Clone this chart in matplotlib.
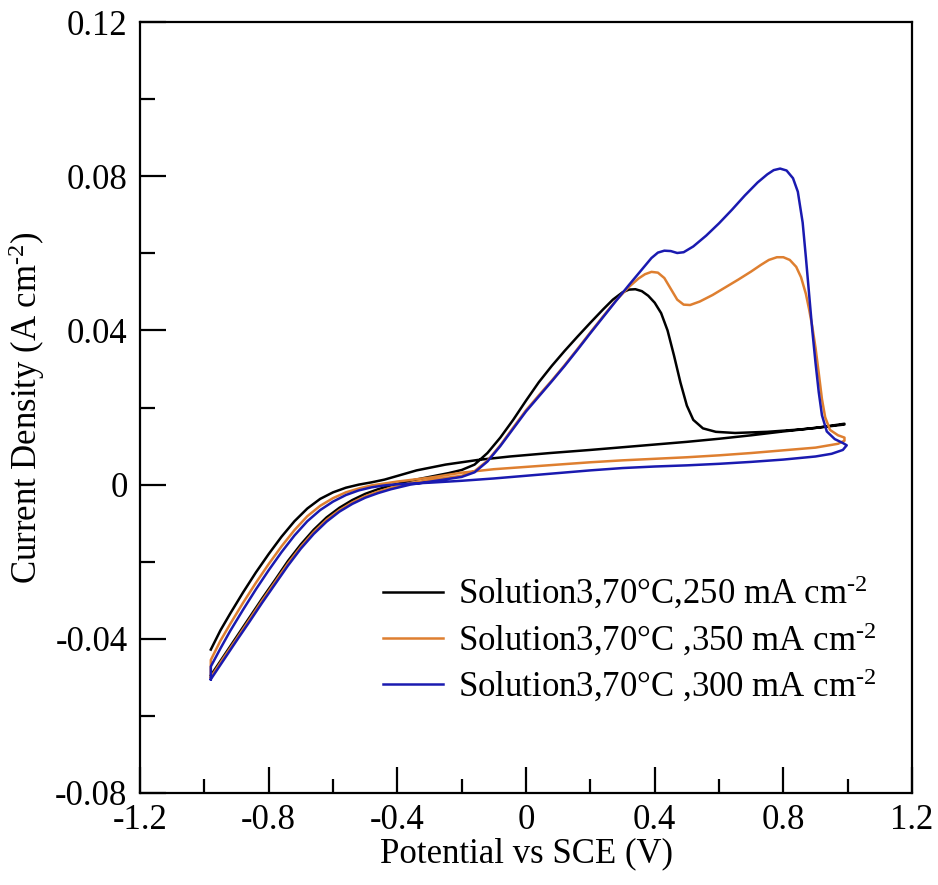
import matplotlib
matplotlib.use('Agg')
import matplotlib.pyplot as plt
import numpy as np
from matplotlib.ticker import MultipleLocator

plt.rcParams['font.family'] = ['Liberation Serif', 'DejaVu Serif']
plt.rcParams['mathtext.fontset'] = 'custom'
plt.rcParams['mathtext.rm'] = 'Liberation Serif'
plt.rcParams['mathtext.it'] = 'Liberation Serif'

# Data. Each curve: forward scan (fwd) then return scan (rev)
# Solution3, 70 C, 250 mA cm-2 (black)
x_250_fwd = [-0.98, -0.94, -0.90, -0.86, -0.82, -0.78, -0.74, -0.70, -0.66, -0.62,
             -0.58, -0.54, -0.50, -0.46, -0.42, -0.36, -0.30, -0.24, -0.20, -0.16,
             -0.12, -0.08, -0.04, 0.00, 0.04, 0.08, 0.12, 0.16, 0.20, 0.24,
             0.27, 0.30, 0.32, 0.34, 0.36, 0.38, 0.40, 0.42, 0.44, 0.46,
             0.48, 0.50, 0.52, 0.55, 0.59, 0.65, 0.75, 0.85, 0.93, 0.99]
y_250_fwd = [-0.0495, -0.0445, -0.0395, -0.0345, -0.0295, -0.0247, -0.0198, -0.0155, -0.0117, -0.0085,
             -0.0060, -0.0040, -0.0024, -0.0012, -0.0002, 0.0010, 0.0020, 0.0030, 0.0038, 0.0052,
             0.0082, 0.0122, 0.0168, 0.0218, 0.0266, 0.0308, 0.0347, 0.0384, 0.0420, 0.0455,
             0.0480, 0.0499, 0.0506, 0.0507, 0.0502, 0.0490, 0.0472, 0.0445, 0.0400, 0.0335,
             0.0265, 0.0205, 0.0168, 0.0146, 0.0137, 0.0134, 0.0137, 0.0143, 0.0150, 0.0156]
x_250_rev = [0.99, 0.90, 0.80, 0.70, 0.60, 0.50, 0.40, 0.30, 0.20, 0.075,
             -0.05, -0.15, -0.25, -0.34, -0.39, -0.44, -0.48, -0.52, -0.56, -0.60,
             -0.64, -0.68, -0.72, -0.76, -0.80, -0.84, -0.88, -0.92, -0.95, -0.98]
y_250_rev = [0.0158, 0.0147, 0.0138, 0.0128, 0.0119, 0.0111, 0.0104, 0.0097, 0.0090, 0.0082,
             0.0073, 0.0064, 0.0052, 0.0037, 0.0025, 0.0013, 0.0006, 0.0000, -0.0008, -0.0020,
             -0.0037, -0.0062, -0.0095, -0.0135, -0.0180, -0.0228, -0.0280, -0.0335, -0.0378, -0.0428]

# Solution3, 70 C, 350 mA cm-2 (orange)
x_350_fwd = [-0.98, -0.94, -0.90, -0.86, -0.82, -0.78, -0.74, -0.70, -0.66, -0.62,
             -0.58, -0.54, -0.50, -0.46, -0.42, -0.36, -0.28, -0.20, -0.16, -0.12,
             -0.08, -0.04, 0.00, 0.04, 0.08, 0.12, 0.16, 0.20, 0.24, 0.28,
             0.32, 0.35, 0.37, 0.39, 0.41, 0.43, 0.45, 0.47, 0.49, 0.51,
             0.54, 0.58, 0.62, 0.66, 0.70, 0.73, 0.755, 0.78, 0.80, 0.82,
             0.84, 0.855, 0.87, 0.88, 0.89, 0.90, 0.91, 0.92, 0.93, 0.945,
             0.97, 0.99]
y_350_fwd = [-0.0500, -0.0449, -0.0400, -0.0350, -0.0300, -0.0252, -0.0204, -0.0161, -0.0123, -0.0091,
             -0.0066, -0.0046, -0.0030, -0.0018, -0.0008, 0.0004, 0.0014, 0.0023, 0.0035, 0.0062,
             0.0102, 0.0148, 0.0193, 0.0232, 0.0270, 0.0310, 0.0352, 0.0395, 0.0437, 0.0478,
             0.0513, 0.0535, 0.0546, 0.0552, 0.0550, 0.0536, 0.0508, 0.0480, 0.0467, 0.0466,
             0.0475, 0.0492, 0.0512, 0.0532, 0.0553, 0.0570, 0.0583, 0.0590, 0.0590, 0.0583,
             0.0565, 0.0538, 0.0495, 0.0455, 0.0410, 0.0355, 0.0290, 0.0222, 0.0175, 0.0142,
             0.0128, 0.0122]
x_350_rev = [0.99, 0.97, 0.90, 0.80, 0.70, 0.60, 0.50, 0.40, 0.30, 0.20,
             0.10, 0.00, -0.10, -0.20, -0.30, -0.40, -0.44, -0.48, -0.52, -0.56,
             -0.60, -0.64, -0.68, -0.72, -0.76, -0.80, -0.84, -0.88, -0.92, -0.95,
             -0.98, -0.98]
y_350_rev = [0.0114, 0.0106, 0.0096, 0.0089, 0.0082, 0.0076, 0.0071, 0.0067, 0.0063, 0.0058,
             0.0052, 0.0046, 0.0040, 0.0031, 0.0018, 0.0008, 0.0003, -0.0002, -0.0010, -0.0020,
             -0.0035, -0.0055, -0.0082, -0.0118, -0.0160, -0.0206, -0.0255, -0.0307, -0.0362, -0.0405,
             -0.0455, -0.0500]

# Solution3, 70 C, 300 mA cm-2 (blue)
x_300_fwd = [-0.98, -0.94, -0.90, -0.86, -0.82, -0.78, -0.74, -0.70, -0.66, -0.62,
             -0.58, -0.54, -0.50, -0.46, -0.42, -0.36, -0.28, -0.20, -0.16, -0.12,
             -0.08, -0.04, 0.00, 0.04, 0.08, 0.12, 0.16, 0.20, 0.24, 0.28,
             0.32, 0.36, 0.39, 0.41, 0.43, 0.45, 0.47, 0.49, 0.52, 0.56,
             0.60, 0.64, 0.68, 0.72, 0.75, 0.77, 0.79, 0.81, 0.83, 0.845,
             0.86, 0.87, 0.88, 0.89, 0.90, 0.91, 0.92, 0.935, 0.96, 0.985,
             0.997]
y_300_fwd = [-0.0505, -0.0455, -0.0405, -0.0356, -0.0306, -0.0258, -0.0210, -0.0166, -0.0128, -0.0096,
             -0.0070, -0.0050, -0.0034, -0.0022, -0.0012, 0.0000, 0.0010, 0.0020, 0.0032, 0.0060,
             0.0100, 0.0145, 0.0190, 0.0229, 0.0268, 0.0308, 0.0350, 0.0393, 0.0435, 0.0477,
             0.0518, 0.0558, 0.0588, 0.0602, 0.0607, 0.0606, 0.0601, 0.0603, 0.0618, 0.0646,
             0.0678, 0.0713, 0.0750, 0.0784, 0.0805, 0.0816, 0.0820, 0.0815, 0.0795, 0.0760,
             0.0680, 0.0590, 0.0495, 0.0400, 0.0316, 0.0240, 0.0180, 0.0138, 0.0118, 0.0108,
             0.0102]
x_300_rev = [0.997, 0.985, 0.95, 0.90, 0.80, 0.70, 0.60, 0.50, 0.40, 0.30,
             0.20, 0.10, 0.00, -0.10, -0.20, -0.30, -0.40, -0.44, -0.48, -0.52,
             -0.56, -0.60, -0.64, -0.68, -0.72, -0.76, -0.80, -0.84, -0.88, -0.92,
             -0.95, -0.98, -0.98]
y_300_rev = [0.0102, 0.0090, 0.0080, 0.0073, 0.0065, 0.0059, 0.0054, 0.0050, 0.0047, 0.0043,
             0.0037, 0.0030, 0.0023, 0.0016, 0.0010, 0.0005, 0.0001, -0.0002, -0.0007, -0.0015,
             -0.0027, -0.0044, -0.0066, -0.0095, -0.0132, -0.0175, -0.0222, -0.0272, -0.0325, -0.0380,
             -0.0425, -0.0472, -0.0505]

labels = ['Solution3,70\u00b0C,250 mA cm$^{\\text{-}2}$',
          'Solution3,70\u00b0C ,350 mA cm$^{\\text{-}2}$',
          'Solution3,70\u00b0C ,300 mA cm$^{\\text{-}2}$']
colors = ['black', '#DE7F30', '#1A1AB0']

fig = plt.figure(figsize=(9.38, 8.85), dpi=100)
ax = fig.add_axes([0.1493, 0.104, 0.823, 0.871])

ax.plot(x_250_fwd + x_250_rev, y_250_fwd + y_250_rev, color=colors[0], lw=1.8, label=labels[0])
ax.plot(x_350_fwd + x_350_rev, y_350_fwd + y_350_rev, color=colors[1], lw=1.8, label=labels[1])
ax.plot(x_300_fwd + x_300_rev, y_300_fwd + y_300_rev, color=colors[2], lw=1.8, label=labels[2])

ax.set_xlim(-1.2, 1.2)
ax.set_ylim(-0.08, 0.12)
ax.set_xticks([-1.2, -0.8, -0.4, 0, 0.4, 0.8, 1.2])
ax.set_xticklabels(['-1.2', '-0.8', '-0.4', '0', '0.4', '0.8', '1.2'])
ax.set_yticks([-0.08, -0.04, 0, 0.04, 0.08, 0.12])
ax.set_yticklabels(['-0.08', '-0.04', '0', '0.04', '0.08', '0.12'])
ax.xaxis.set_minor_locator(MultipleLocator(0.2))
ax.yaxis.set_minor_locator(MultipleLocator(0.02))

ax.tick_params(which='both', direction='in', top=False, right=False, labelsize=25, width=1.6)
ax.tick_params(axis='y', which='major', length=19, pad=9)
ax.tick_params(axis='y', which='minor', length=11)
ax.tick_params(axis='x', which='major', length=19, pad=8)
ax.tick_params(axis='x', which='minor', length=10)
for s in ax.spines.values():
    s.set_linewidth(1.6)

ax.set_xlabel('Potential vs SCE (V)', fontsize=25, labelpad=0)
ax.set_ylabel('Current Density (A cm$^{\\text{-}2}$)', fontsize=25, labelpad=6)

ax.legend(loc='upper left', bbox_to_anchor=(0.315, 0.283), frameon=False, fontsize=25,
          handlelength=1.72, handletextpad=0.42, labelspacing=0.26, borderaxespad=0, borderpad=0)

plt.savefig('out.png', dpi=100)
